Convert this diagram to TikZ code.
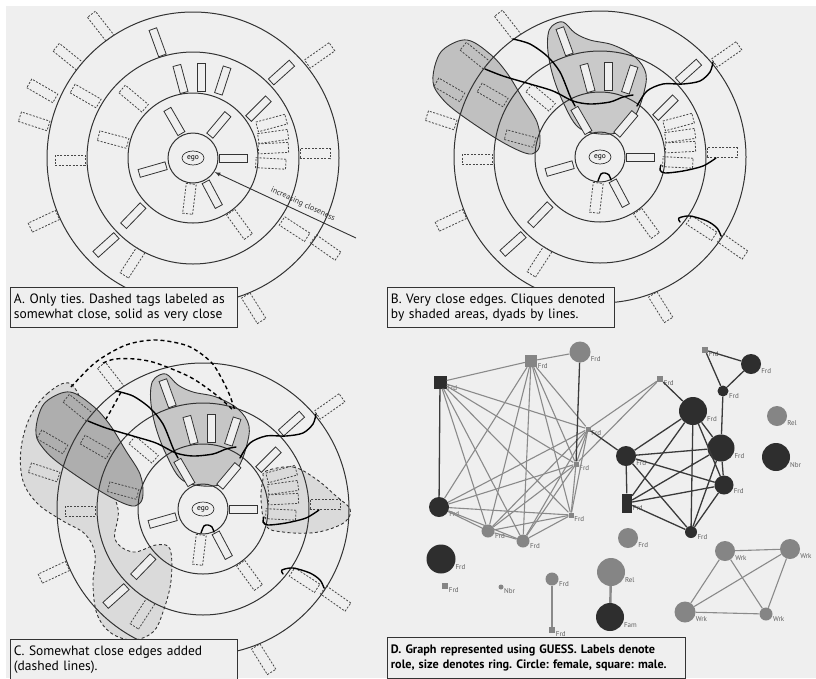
\documentclass[tikz,border=0pt]{standalone}
\usepackage{fontspec}
\setmainfont{PT Sans}
\usetikzlibrary{shapes.geometric}
\frenchspacing

\definecolor{paper}{HTML}{EFEFEF}
\definecolor{ink}{HTML}{333333}
\definecolor{cliqueB}{HTML}{C0C0C0}
\definecolor{cliqueBtop}{HTML}{C9C9C9}
\definecolor{cliqueC}{HTML}{AEAEAE}
\definecolor{cliqueCtop}{HTML}{C6C6C6}
\definecolor{softgrey}{HTML}{DADADA}
\definecolor{darknode}{HTML}{2E2E2E}
\definecolor{greynode}{HTML}{858585}
\definecolor{greyedge}{HTML}{8A8A8A}
\definecolor{darkedge}{HTML}{3A3A3A}
\definecolor{rolegrey}{HTML}{5E5E5E}

\newcommand{\egotags}[1]{%
  \foreach \r in {25,65,106,146}
    \draw[ring] (0,0) circle (\r);
  \foreach \a/\d/\t [count=\i] in {117/41/120, 52/42/50, 0/40/0, 196/42/196, -62/41/-62,
      99/80/105, 84/81/90, 69/83/72, 37/82/45, 224/83/226,
      107/121/110, 44/123/42, 225/123/222}
    \node[solidtag, rotate=\t] (#1s\i) at (\a:\d) {};
  \foreach \a/\d/\t [count=\i] in {125/161/128, 141/161/141, 156/165/150, 167/163/162,
      150/124/150, 135/84/140, 167/82/165, 181/123/180, 203/162/205, 240/121/237,
      -68/162/-58, -55/81/-54, -35/124/-33, -34/160/-35, 2/122/0, 39/163/35,
      24/86/15, 15/83/8, 7/81/3, -4/78/-3, -95/41/-97}
    \node[dashtag, rotate=\t] (#1d\i) at (\a:\d) {};
  \node[egonode] (#1ego) at (0,0) {ego};
}

\newcommand{\cliqueshapes}[2]{%
  \draw[blob, fill=#1] plot[smooth cycle, tension=0.6] coordinates {(-133,117) (-110,103)
      (-93,84) (-77,58) (-63,35) (-60,15) (-64,5) (-75,4) (-103,18) (-143,45) (-160,61)
      (-167,75) (-164,95) (-155,109)};
  \draw[blob, fill=#2] plot[smooth cycle, tension=0.6] coordinates {(-48,131) (-37,135)
      (-25,124) (-10,117) (13,112) (35,100) (46,83) (43,61) (35,41) (22,26) (0,23)
      (-22,30) (-37,55) (-47,81) (-52,105) (-52,122)};
}

\newcommand{\dyadlines}{%
  \draw[dyad] plot[smooth] coordinates {(-87,118) (-70,113) (-53,101) (-40,85) (-30,61) (-25,51)};
  \draw[dyad] plot[smooth] coordinates {(-115,88) (-97,81) (-70,73) (-47,66) (-27,56)
      (-10,53) (10,55) (23,60) (33,62)};
  \draw[dyad] plot[smooth] coordinates {(37,51) (47,66) (63,73) (83,73) (100,76) (110,85) (113,95)};
  \draw[dyad] plot[smooth] coordinates {(61,-8) (60,-13) (65,-16) (83,-14) (103,-9) (116,-1)};
  \draw[dyad] plot[smooth] coordinates {(80,-65) (79,-61) (90,-59) (107,-64) (117,-71) (121,-79)};
  \draw[dyad] plot[smooth] coordinates {(-2,-24) (1,-17) (5,-16) (9,-18) (11,-23)};
}

\begin{document}
\begin{tikzpicture}[x=1pt, y=1pt,
    ring/.style={draw=ink, line width=1pt},
    solidtag/.style={draw=ink, fill=paper, line width=0.8pt, minimum width=28pt,
      minimum height=8pt, inner sep=0pt},
    dashtag/.style={draw=ink!90, dash pattern=on 2pt off 1.5pt, line width=0.8pt,
      minimum width=30pt, minimum height=10pt, inner sep=0pt},
    egonode/.style={ellipse, draw=ink, fill=paper, line width=0.7pt, inner sep=0pt,
      minimum width=22pt, minimum height=14pt, font=\fontsize{7.5}{7.5}\selectfont},
    blob/.style={draw=ink, line width=0.9pt},
    softblob/.style={draw=ink, fill=softgrey, dash pattern=on 3pt off 2.5pt, line width=0.9pt},
    dyad/.style={draw=black, line width=1.4pt, line cap=round},
    weakdyad/.style={draw=black, line width=1.4pt, dash pattern=on 4pt off 3pt},
    caption/.style={draw=ink, fill=paper, line width=0.9pt, inner xsep=3.5pt, inner ysep=2pt,
      align=left, anchor=north west, font=\fontsize{13.5}{15.5}\selectfont},
    fem/.style={circle, inner sep=0pt, minimum size=#1},
    male/.style={rectangle, inner sep=0pt, minimum size=#1},
    dk/.style={fill=darknode},
    gy/.style={fill=greynode},
    says/.style={label={[rolefont]-20:#1}},
    rolefont/.style={text=rolegrey, inner sep=0.5pt, font=\fontsize{7}{7}\selectfont},
    thinedge/.style={draw=greyedge, line width=1.1pt},
    boldedge/.style={draw=darkedge, line width=1.3pt}]

\useasboundingbox (0,0) rectangle (816,-678);
\fill[white] (0,0) rectangle (816,-678);
\fill[paper] (6,-6) rectangle (816,-678);

\begin{scope}[shift={(193,-158)}]
  \egotags{A}
  \coordinate (Anear) at (-33:26);
  \coordinate (Afar) at (163,-80);
  \draw[draw=ink, line width=0.9pt, -latex] (Afar) -- (Anear)
    node[pos=0.4, sloped, above=0.5pt, text=ink, font=\fontsize{8}{8}\selectfont] (Aclose) {increasing closeness};
\end{scope}

\begin{scope}[shift={(600,-157)}]
  \cliqueshapes{cliqueB}{cliqueBtop}
  \egotags{B}
  \dyadlines
\end{scope}

\begin{scope}[shift={(203,-509)}]
  \draw[softblob] plot[smooth cycle, tension=0.6] coordinates {(-132,125) (-155,116) (-173,92)
      (-182,60) (-180,28) (-165,5) (-140,-12) (-118,-25) (-108,-45) (-110,-75) (-106,-105)
      (-92,-124) (-70,-131) (-50,-123) (-40,-103) (-32,-72) (-33,-40) (-47,-36) (-70,-43)
      (-88,-30) (-85,0) (-100,40) (-115,90)};
  \draw[softblob] plot[smooth cycle, tension=0.6] coordinates {(63,38) (90,42) (113,30)
      (133,13) (147,0) (143,-12) (127,-20) (107,-24) (80,-23) (63,-17) (58,10) (60,30)};
  \cliqueshapes{cliqueC}{cliqueCtop}
  \egotags{C}
  \dyadlines
  \draw[weakdyad] plot[smooth] coordinates {(-132,122) (-107,147) (-77,164) (-47,169)
      (-15,163) (8,147) (20,128) (27,113) (32,98)};
  \draw[weakdyad] plot[smooth] coordinates {(-100,146) (-88,150) (-68,150) (-47,146)
      (-13,132) (12,115) (29,100)};
  \draw[weakdyad] plot[smooth] coordinates {(-82,117) (-89,104) (-97,90)};
\end{scope}

\node[male=13pt, dk, says=Frd] (sqL) at (440,-382) {};
\node[male=12pt, gy, says=Frd] (sqT) at (531,-361) {};
\node[fem=21pt, gy, says=Frd] (cT) at (580,-352) {};
\node[fem=20pt, dk, says=Frd] (c1) at (439,-507) {};
\node[fem=13pt, gy, says=Frd] (g1) at (488,-531) {};
\node[fem=13pt, gy, says=Frd] (g2) at (523,-541) {};
\node[male=5pt, gy, says=Frd] (s1) at (571,-515) {};
\node[male=5pt, gy, says=Frd] (s2) at (576,-464) {};
\node[male=5pt, gy, says=Frd] (s3) at (588,-429) {};
\node[male=6pt, gy, says=Frd] (s4) at (660,-379) {};
\node[fem=20pt, dk, says=Frd] (d1) at (626,-456) {};
\node[rectangle, inner sep=0pt, minimum width=10pt, minimum height=19pt, dk, says=Frd] (dsq) at (627,-503) {};
\node[fem=28pt, dk, says=Frd] (big1) at (693,-411) {};
\node[fem=27pt, dk, says=Frd] (big2) at (721,-448) {};
\node[fem=19pt, dk, says=Frd] (d3) at (724,-485) {};
\node[fem=12pt, dk, says=Frd] (d4) at (691,-532) {};
\node[fem=20pt, gy, says=Frd] (gl) at (628,-538) {};
\node[male=6pt, gy, says=Frd] (s5) at (705,-350) {};
\node[fem=20pt, dk, says=Frd] (d5) at (751,-364) {};
\node[fem=11pt, dk, says=Frd] (d6) at (723,-391) {};
\node[fem=20pt, gy, says=Rel] (rel) at (777,-416) {};
\node[fem=28pt, dk, says=Nbr] (nbr) at (776,-457) {};
\node[fem=29pt, dk, says=Frd] (c2) at (441,-559) {};
\node[male=6pt, gy, says=Frd] (s6) at (445,-586) {};
\node[fem=5pt, gy, says=Nbr] (s7) at (501,-587) {};
\node[fem=13pt, gy, says=Frd] (g3) at (552,-579) {};
\node[male=6pt, gy, says=Frd] (s8) at (552,-630) {};
\node[fem=28pt, gy, says=Rel] (rel2) at (611,-572) {};
\node[fem=28pt, dk, says=Fam] (fam) at (610,-617) {};
\node[fem=20pt, gy, says=Wrk] (w1) at (725,-551) {};
\node[fem=20pt, gy, says=Wrk] (w2) at (790,-549) {};
\node[fem=21pt, gy, says=Wrk] (w3) at (685,-612) {};
\node[fem=13pt, gy, says=Wrk] (w4) at (766,-614) {};

\foreach \u/\v in {sqL/sqT, sqL/g1, sqL/g2, sqL/s1, sqL/s2, sqL/s3, sqT/c1, sqT/g1, sqT/g2,
    sqT/s1, sqT/s2, sqT/s3, c1/g1, c1/g2, c1/s1, c1/s2, c1/s3, g1/g2, g1/s1, g1/s2, g1/s3,
    g2/s1, g2/s2, g2/s3, s1/s2, s1/s3, s2/s3, sqT/cT, s3/s4, s2/s4, w1/w2, w1/w3, w1/w4,
    w2/w3, w2/w4, w3/w4}
  \draw[thinedge] (\u) -- (\v);
\foreach \u/\v in {sqL/c1, cT/s2, s3/d1, s4/big1, d1/dsq, d1/big1, d1/big2, d1/d3, d1/d4,
    dsq/big1, dsq/big2, dsq/d3, dsq/d4, big1/big2, big1/d3, big1/d4, big2/d3, big2/d4,
    d3/d4, d6/big2, s5/d5, s5/d6, d5/d6}
  \draw[boldedge] (\u) -- (\v);
\draw[thinedge, line width=1.8pt] (g3) -- (s8);
\draw[thinedge, line width=2.4pt] (rel2) -- (fam);

\node[caption, text width=220pt, minimum height=40pt] (capA) at (10,-287)
  {A. Only ties. Dashed tags labeled as\\somewhat close, solid as very close};
\node[caption, text width=220pt, minimum height=40pt] (capB) at (387,-287)
  {B. Very close edges. Cliques denoted\\by shaded areas, dyads by lines.};
\node[caption, text width=220pt, minimum height=40pt] (capC) at (10,-639)
  {C. Somewhat close edges added\\(dashed lines).};
\node[caption, text width=291pt, minimum height=41pt, font=\fontsize{12.2}{15.5}\selectfont\bfseries] (capD) at (387,-637)
  {D. Graph represented using GUESS. Labels denote\\role, size denotes ring. Circle: female, square: male.};
\end{tikzpicture}
\end{document}
